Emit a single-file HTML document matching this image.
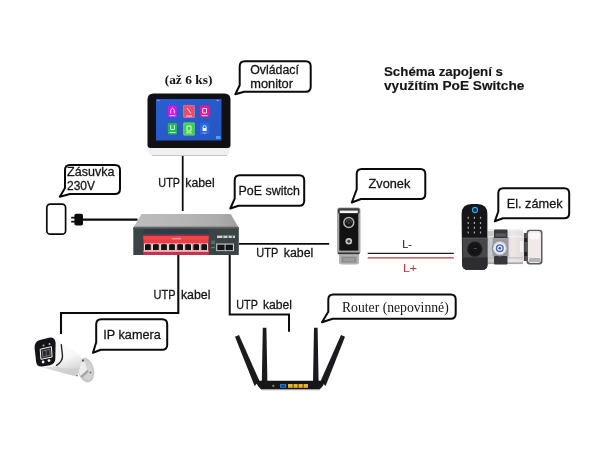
<!DOCTYPE html>
<html lang="cs">
<head>
<meta charset="utf-8">
<title>Schéma zapojení s využitím PoE Switche</title>
<style>
  html, body { margin: 0; padding: 0; background: #ffffff; }
  body { width: 600px; height: 450px; overflow: hidden; font-family: "Liberation Sans", sans-serif; }
  svg { display: block; will-change: transform; }
  .sans { font-family: "Liberation Sans", sans-serif; fill: #151515; stroke: #151515; stroke-width: 0.28; }
  #title .sans { stroke-width: 0.15; }
  .serif { font-family: "Liberation Serif", serif; fill: #151515; }
  .wire { stroke: #0c0c0c; fill: none; stroke-linejoin: miter; }
  .bubble { fill: #fff; stroke: #0a0a0a; stroke-width: 2; stroke-linejoin: round; }
</style>
</head>
<body>
<svg width="600" height="450" viewBox="0 0 600 450">
  <defs>
    <linearGradient id="gScreen" x1="0" y1="0" x2="1" y2="1">
      <stop offset="0" stop-color="#2a5ed0"/>
      <stop offset="1" stop-color="#2656c2"/>
    </linearGradient>
    <linearGradient id="gTop" x1="0" y1="0" x2="1" y2="0">
      <stop offset="0" stop-color="#bdbdbd"/>
      <stop offset="0.45" stop-color="#b6b6b6"/>
      <stop offset="0.8" stop-color="#acacac"/>
      <stop offset="1" stop-color="#a0a0a0"/>
    </linearGradient>
    <linearGradient id="gSilver" x1="0" y1="0" x2="0" y2="1">
      <stop offset="0" stop-color="#c8c8c8"/>
      <stop offset="1" stop-color="#858585"/>
    </linearGradient>
    <linearGradient id="gCam" x1="0" y1="0" x2="0.35" y2="1">
      <stop offset="0" stop-color="#ffffff"/>
      <stop offset="0.65" stop-color="#f7f7f7"/>
      <stop offset="1" stop-color="#d6d6d6"/>
    </linearGradient>
    <linearGradient id="gLock" x1="0" y1="0" x2="1" y2="0">
      <stop offset="0" stop-color="#c4c4c4"/>
      <stop offset="0.45" stop-color="#dad8d8"/>
      <stop offset="0.7" stop-color="#ece6e6"/>
      <stop offset="1" stop-color="#e2dcdc"/>
    </linearGradient>
  </defs>

  <!-- ===== WIRES ===== -->
  <g id="wires">
    <path class="wire" stroke-width="1.8" d="M182.7 156 V211"/>
    <path class="wire" stroke-width="2.3" d="M82 219.600 H137.500"/>
    <path class="wire" stroke-width="2.1" d="M178.300 255 V313 H61 V334"/>
    <path class="wire" stroke-width="2" d="M229.700 255 V314.600 H289 V331.700"/>
    <path class="wire" stroke-width="1.8" d="M239 243.800 H329.200"/>
    <path d="M367.700 253.300 H453.800" stroke="#1c1c1c" stroke-width="1.2" fill="none"/>
    <path d="M367.700 257.900 H453.800" stroke="#b03a3a" stroke-width="1.2" fill="none"/>
  </g>

  <!-- ===== WIRE LABELS ===== -->
  <g id="labels">
    <text class="sans" x="158.3" y="187.4" font-size="12.5" textLength="21.7" lengthAdjust="spacingAndGlyphs">UTP</text>
    <text class="sans" x="185.3" y="187.4" font-size="12.5" textLength="29.4" lengthAdjust="spacingAndGlyphs">kabel</text>
    <text class="sans" x="256.3" y="256.7" font-size="12.5" textLength="22.0" lengthAdjust="spacingAndGlyphs">UTP</text>
    <text class="sans" x="283.7" y="256.7" font-size="12.5" textLength="29.6" lengthAdjust="spacingAndGlyphs">kabel</text>
    <text class="sans" x="153.5" y="298.6" font-size="12.5" textLength="22.0" lengthAdjust="spacingAndGlyphs">UTP</text>
    <text class="sans" x="180.9" y="298.6" font-size="12.5" textLength="29.6" lengthAdjust="spacingAndGlyphs">kabel</text>
    <text class="sans" x="236.3" y="309.4" font-size="12.5" textLength="21.5" lengthAdjust="spacingAndGlyphs">UTP</text>
    <text class="sans" x="263.0" y="309.4" font-size="12.5" textLength="29.0" lengthAdjust="spacingAndGlyphs">kabel</text>
    <text class="sans" x="402.3" y="247.5" font-size="11.5" textLength="9.4" lengthAdjust="spacingAndGlyphs" style="fill:#2a2a2a;stroke-width:0.1">L-</text>
    <text class="sans" x="403.0" y="271.5" font-size="11.5" textLength="14.0" lengthAdjust="spacingAndGlyphs" style="fill:#c03c3c;stroke:#c03c3c;stroke-width:0.1">L+</text>
  </g>

  <!-- ===== TITLE ===== -->
  <g id="title" font-weight="bold">
    <text class="sans" x="384.0" y="76.0" font-size="12.5" textLength="119.0" lengthAdjust="spacingAndGlyphs">Schéma zapojení s</text>
    <text class="sans" x="384.0" y="90.4" font-size="12.5" textLength="140.4" lengthAdjust="spacingAndGlyphs">využítím PoE Switche</text>
  </g>

  <!-- ===== MONITOR ===== -->
  <g id="monitor">
    <text class="serif" x="164.7" y="84.3" font-size="13" textLength="47.7" lengthAdjust="spacingAndGlyphs" font-weight="bold">(až 6 ks)</text>
    <path d="M147.800 146 H230.600 L229.600 152 Q228.800 155.800 225.800 155.800 H152.800 Q149.800 155.800 149 152 Z" fill="#efefef"/>
    <rect x="152" y="155" width="75" height="1" fill="#c8c8c8"/>
    <path d="M153.500 93.500 H224.500 Q230.500 93.500 230.500 99.500 V145 Q230.500 148 227.500 148 H150.500 Q147.500 148 147.500 145 V99.500 Q147.500 93.500 153.500 93.500 Z" fill="#111113"/>
    <rect x="156" y="99" width="65.500" height="41.500" fill="url(#gScreen)"/>
    <!-- icons row 1 -->
    <rect x="167.800" y="105.500" width="8.900" height="11.200" rx="1" fill="#d614e6"/>
    <rect x="183.300" y="104.900" width="11.400" height="12.800" rx="1" fill="#f27c94"/>
    <rect x="184" y="105.600" width="10" height="11.400" rx="0.800" fill="#ee4a6e"/>
    <rect x="200" y="105.500" width="9.500" height="11.200" rx="1" fill="#ee1690"/>
    <!-- icons row 2 -->
    <rect x="167.800" y="123" width="9.200" height="11.500" rx="1" fill="#1fb858"/>
    <rect x="183.300" y="122.600" width="11.400" height="12.800" rx="1" fill="#78dc70"/>
    <rect x="184" y="123.300" width="10" height="11.400" rx="0.800" fill="#40d048"/>
    <rect x="200" y="123" width="9.500" height="11.500" rx="1" fill="#2a68de"/>
    <!-- glyphs -->
    <g fill="none" stroke="#ffffff" stroke-width="0.900" opacity="0.950">
      <path d="M170.700 113.500 V110.500 Q172.500 106 174.300 110.500 V113.500"/>
      <path d="M187 108 L191 113.500"/>
      <path d="M202.700 108.500 H206.500 V113 H202.700 Z"/>
      <path d="M170.700 125 V129.500 H174.300 V125"/>
      <path d="M187 126 H191 V131 H187 Z"/>
      <path d="M203 128 V126.500 Q204.600 124.300 206.200 126.500 V128"/>
    </g>
    <rect x="202.600" y="128" width="4" height="3" fill="#ffffff"/>
    <g fill="#ffffff" opacity="0.850">
      <rect x="169.500" y="115.300" width="6" height="0.900"/>
      <rect x="186" y="115.600" width="6" height="0.900"/>
      <rect x="201.600" y="115.300" width="6" height="0.900"/>
      <rect x="169.500" y="132" width="6" height="0.900"/>
      <rect x="186" y="132.400" width="6" height="0.900"/>
      <rect x="202.600" y="132.600" width="4" height="0.800" opacity="0.700"/>
    </g>
    <rect x="216" y="136" width="4.600" height="3" fill="#3fa4f4"/>
    <rect x="157.500" y="100" width="2" height="1" fill="#9fc0ff" opacity="0.800"/>
    <rect x="216.500" y="100" width="2.500" height="1" fill="#9fc0ff" opacity="0.800"/>
  </g>

  <!-- ===== SOCKET + PLUG ===== -->
  <g id="socket">
    <rect x="46.800" y="204.200" width="18.800" height="30" rx="3.500" fill="#fff" stroke="#0a0a0a" stroke-width="1.700"/>
    <rect x="74.400" y="213.800" width="8.600" height="11.800" rx="1.800" fill="#0c0c0c"/>
    <rect x="71.200" y="216.800" width="4" height="1.700" fill="#0c0c0c"/>
    <rect x="71.200" y="220.800" width="4" height="1.700" fill="#0c0c0c"/>
  </g>

  <!-- ===== POE SWITCH ===== -->
  <g id="switch">
    <path d="M141.500 214 H230.600 L238.800 227.800 H133.300 Z" fill="url(#gTop)"/>
    <path d="M134.300 226 H237.700 L238.800 227.800 H133.300 Z" fill="#6a6a6a" opacity="0.350"/>
    <rect x="133.300" y="227.500" width="105.500" height="27.500" fill="#3a4447"/>
    <rect x="133.300" y="227.500" width="105.500" height="1.600" fill="#505254"/>
    <rect x="143.500" y="229.100" width="65" height="6" fill="#2e3c4c"/>
    <rect x="143.500" y="235" width="65" height="20" fill="#ea3e48"/>
    <rect x="143.500" y="234.300" width="65" height="1.800" fill="#8a3444"/>
    <rect x="143.500" y="236.100" width="65" height="3.400" fill="#f0484c"/>
    <rect x="143.500" y="250.500" width="65" height="1.500" fill="#f2a2aa"/>
    <rect x="143.500" y="252" width="65" height="3" fill="#c43250"/>
    <rect x="172" y="238.400" width="9" height="0.900" fill="#ffd8d0" opacity="0.850"/>
    <rect x="144.1" y="243.400" width="7.600" height="7.400" fill="#f6e4e0"/>
    <rect x="145.0" y="244.300" width="5.800" height="5.800" fill="#101214"/>
    <rect x="146.2" y="243.800" width="3.400" height="1.400" fill="#2a2e30"/>
    <rect x="152.1" y="243.400" width="7.600" height="7.400" fill="#f6e4e0"/>
    <rect x="153.0" y="244.300" width="5.800" height="5.800" fill="#101214"/>
    <rect x="154.2" y="243.800" width="3.400" height="1.400" fill="#2a2e30"/>
    <rect x="160.2" y="243.400" width="7.600" height="7.400" fill="#f6e4e0"/>
    <rect x="161.1" y="244.300" width="5.800" height="5.800" fill="#101214"/>
    <rect x="162.3" y="243.800" width="3.400" height="1.400" fill="#2a2e30"/>
    <rect x="168.2" y="243.400" width="7.600" height="7.400" fill="#f6e4e0"/>
    <rect x="169.1" y="244.300" width="5.800" height="5.800" fill="#101214"/>
    <rect x="170.3" y="243.800" width="3.400" height="1.400" fill="#2a2e30"/>
    <rect x="176.3" y="243.400" width="7.600" height="7.400" fill="#f6e4e0"/>
    <rect x="177.2" y="244.300" width="5.800" height="5.800" fill="#101214"/>
    <rect x="178.4" y="243.800" width="3.400" height="1.400" fill="#2a2e30"/>
    <rect x="184.3" y="243.400" width="7.600" height="7.400" fill="#f6e4e0"/>
    <rect x="185.2" y="244.300" width="5.800" height="5.800" fill="#101214"/>
    <rect x="186.4" y="243.800" width="3.400" height="1.400" fill="#2a2e30"/>
    <rect x="192.4" y="243.400" width="7.600" height="7.400" fill="#f6e4e0"/>
    <rect x="193.3" y="244.300" width="5.800" height="5.800" fill="#101214"/>
    <rect x="194.5" y="243.800" width="3.400" height="1.400" fill="#2a2e30"/>
    <rect x="200.4" y="243.400" width="7.600" height="7.400" fill="#f6e4e0"/>
    <rect x="201.3" y="244.300" width="5.800" height="5.800" fill="#101214"/>
    <rect x="202.5" y="243.800" width="3.400" height="1.400" fill="#2a2e30"/>
    <!-- uplink -->
    <rect x="216.200" y="243.500" width="17.800" height="7.600" fill="#c9cfd2"/>
    <rect x="217.300" y="244.600" width="7.300" height="5.600" fill="#121416"/>
    <rect x="225.600" y="244.600" width="7.300" height="5.600" fill="#121416"/>
    <rect x="217" y="235.600" width="18" height="2.400" fill="#e8e8e8" opacity="0.850"/>
    <rect x="222.500" y="235.600" width="0.900" height="2.400" fill="#3a4447"/>
    <rect x="227.500" y="235.600" width="1.100" height="2.400" fill="#3a4447"/>
    <rect x="231.800" y="235.600" width="0.900" height="2.400" fill="#3a4447"/>
    <rect x="211.600" y="240.600" width="0.900" height="3.400" fill="#9aa" opacity="0.800"/>
    <rect x="213.600" y="240.600" width="0.900" height="3.400" fill="#9aa" opacity="0.800"/>
    <rect x="211.200" y="247.200" width="3.600" height="0.900" fill="#9aa" opacity="0.700"/>
  </g>

  <!-- ===== DOORBELL ===== -->
  <g id="bell">
    <path d="M339 251 H359 V262.200 Q359 264.500 356.700 264.500 H341.300 Q339 264.500 339 262.200 Z" fill="#b2b2b2"/>
    <rect x="341.500" y="256.600" width="15" height="6" fill="#8c8c8c"/>
    <rect x="343.500" y="258" width="11" height="3.200" fill="#9c9c9c"/>
    <rect x="337" y="207.500" width="23.500" height="47" rx="2.400" fill="#a6a6a6"/>
    <rect x="338" y="208.200" width="21.500" height="5.600" rx="1.500" fill="#3c3c3c"/>
    <rect x="339.800" y="210.600" width="18" height="2.500" fill="#f2f2f2"/>
    <rect x="339.300" y="213.400" width="19" height="37.200" fill="#121212"/>
    <rect x="338" y="252.500" width="21.500" height="1.600" fill="#333333"/>
    <circle cx="348.800" cy="222.500" r="5.700" fill="#b4b4b4"/>
    <circle cx="348.800" cy="222.500" r="4.200" fill="#161616"/>
    <path d="M346 222.500 A2.800 2.800 0 0 1 351.600 222.500" fill="none" stroke="#6c6c6c" stroke-width="0.800"/>
    <circle cx="348.800" cy="222.800" r="1.400" fill="#3c3c3c"/>
    <circle cx="348.800" cy="241.300" r="3.300" fill="#c4c4c4"/>
    <circle cx="348.800" cy="241.300" r="1.500" fill="#3a3a3a"/>
  </g>

  <!-- ===== ELECTRIC LOCK ===== -->
  <g id="lock">
    <!-- lock body -->
    <rect x="487.400" y="229.500" width="35.600" height="34.600" rx="1.500" fill="url(#gLock)"/>
    <rect x="487.400" y="229.500" width="35.600" height="1.600" fill="#ededed"/>
    <rect x="487.400" y="236" width="35.600" height="1.400" fill="#ffffff" opacity="0.450"/>
    <rect x="487.400" y="257" width="35.600" height="1.600" fill="#b0b0b0" opacity="0.450"/>
    <rect x="487.400" y="262.400" width="35.600" height="1.700" fill="#a8a8a8"/>
    <rect x="492.600" y="237" width="16" height="19.500" fill="#9c9ca0"/>
    <rect x="494" y="229.500" width="13.500" height="8.500" rx="1" fill="#38383a"/>
    <rect x="495.500" y="233.500" width="10.500" height="3" fill="#5c5c60"/>
    <rect x="494" y="256" width="13.500" height="8.600" rx="1" fill="#38383a"/>
    <circle cx="499.800" cy="248.200" r="8.200" fill="#8e9098"/>
    <circle cx="499.800" cy="248.200" r="6.900" fill="#d6d8de"/>
    <circle cx="499.800" cy="248.200" r="5.400" fill="#f3f4f8"/>
    <circle cx="499.800" cy="248.200" r="4" fill="#4a64b8"/>
    <circle cx="499.800" cy="248.200" r="2.600" fill="#dfe4f4"/>
    <circle cx="499.800" cy="248.200" r="1.200" fill="#3a52a8"/>
    <rect x="520" y="241" width="8" height="11" fill="#f4f0f0"/>
    <!-- strike -->
    <rect x="523.800" y="233" width="5.500" height="28" fill="#4a4c50"/>
    <rect x="526.500" y="229.700" width="16" height="34.700" rx="3" fill="#5a5c60"/>
    <rect x="528" y="231" width="13" height="32" rx="2.400" fill="#efe9e9"/>
    <rect x="529.500" y="232.500" width="10" height="7" rx="1.500" fill="#faf6f6"/>
    <rect x="529" y="258" width="11.500" height="4" rx="1" fill="#b4b4b4"/>
    <rect x="524.200" y="238" width="3" height="4" fill="#222"/>
    <rect x="524.200" y="252" width="3" height="4" fill="#222"/>
    <!-- keypad -->
    <path d="M461.600 214 Q461.600 204 471.600 204 H477.400 Q487.400 204 487.400 214 V264.700 Q487.400 269.700 482.400 269.700 H467.600 Q462.600 269.700 462.100 264.700 Z" fill="#161618"/>
    <path d="M462.400 238 H487.400 V264.700 Q487.400 269.700 482.400 269.700 H467.600 Q462.600 269.700 462.400 264.700 Z" fill="#47474a"/>
    <path d="M462.400 257.500 H487.400 V264.700 Q487.400 269.700 482.400 269.700 H467.600 Q462.600 269.700 462.400 264.700 Z" fill="#2d2d30"/>
    <rect x="462.400" y="237.600" width="25" height="1" fill="#5a5a5e"/>
    <circle cx="474.800" cy="249.200" r="7.600" fill="#1b1b1d"/>
    <circle cx="474.800" cy="249.200" r="5.800" fill="#141416"/>
    <rect x="473.600" y="248" width="3.400" height="0.900" fill="#4e4e52"/>
    <circle cx="475" cy="210" r="3" fill="#16324e"/>
    <circle cx="475" cy="210" r="2.600" fill="none" stroke="#3a9fe4" stroke-width="1.100"/>
    <rect x="467.6" y="216.8" width="1.200" height="2" fill="#a4a4aa"/>
    <rect x="473.8" y="216.8" width="1.200" height="2" fill="#a4a4aa"/>
    <rect x="479.9" y="216.8" width="1.200" height="2" fill="#a4a4aa"/>
    <rect x="467.6" y="222.0" width="1.200" height="2" fill="#a4a4aa"/>
    <rect x="473.8" y="222.0" width="1.200" height="2" fill="#a4a4aa"/>
    <rect x="479.9" y="222.0" width="1.200" height="2" fill="#a4a4aa"/>
    <rect x="467.6" y="226.8" width="1.200" height="2" fill="#a4a4aa"/>
    <rect x="473.8" y="226.8" width="1.200" height="2" fill="#a4a4aa"/>
    <rect x="479.9" y="226.8" width="1.200" height="2" fill="#a4a4aa"/>
    <rect x="467.6" y="231.5" width="1.200" height="2" fill="#a4a4aa"/>
    <rect x="473.8" y="231.5" width="1.200" height="2" fill="#a4a4aa"/>
    <rect x="479.9" y="231.5" width="1.200" height="2" fill="#a4a4aa"/>
  </g>

  <!-- ===== IP CAMERA ===== -->
  <g id="camera">
    <!-- mount -->
    <ellipse cx="86" cy="370.200" rx="8" ry="12.400" transform="rotate(-14 86 370.200)" fill="#c6c6c6"/>
    <ellipse cx="86.600" cy="370" rx="6" ry="10" transform="rotate(-14 86.600 370)" fill="#d2d2d2"/>
    <path d="M76 364 L84.500 361.500 L87.500 369.500 L80.500 376 Z" fill="#ececec"/>
    <path d="M80.500 376 L87.500 369.500 L88.500 372 L82 378 Z" fill="#a8a8a8"/>
    <circle cx="83" cy="360.600" r="1.100" fill="#5a5a5a"/>
    <circle cx="90.500" cy="372.500" r="1" fill="#7a7a7a"/>
    <circle cx="76.800" cy="375.300" r="1.100" fill="#7a7a7a"/>
    <!-- body -->
    <path d="M54 338 L62.500 343.500 L79.500 355 Q82.500 357.500 81.500 361.500 L78.500 372 Q77 376.500 72.500 375.500 L42 367.500 Z" fill="url(#gCam)"/>
    <path d="M44 367.800 L72.500 375.500 Q77 376.500 78.500 372 L79.500 368 Q64 370 54 365 Z" fill="#c8c8c8" opacity="0.450"/>
    <!-- hood -->
    <path d="M33.700 348 Q33.400 340.800 39.800 339.200 L49.500 336.700 Q58 335.600 61.400 343 L62.600 357 Q62.400 363 56 366.200 L43 367.800 Q36 368.200 35.300 362.500 Z" fill="#f6f6f6"/>
    <path d="M61.300 344.600 L62.500 356 Q62.700 361.500 56.500 365.300" stroke="#262626" stroke-width="1.400" fill="none" stroke-linecap="round"/>
    <!-- face -->
    <path d="M34.600 348 Q34.400 341.600 40 340.100 L49 337.700 Q55 336.900 55.600 343 L55.300 359 Q55.100 364 50 365.200 L42.200 366.500 Q36.900 367 36.200 362 Z" fill="#141416"/>
    <!-- inner panel -->
    <path d="M40.200 349.200 L51.400 346.700 L52.100 357 L40.900 359.300 Z" fill="#26262a" stroke="#f0f0f0" stroke-width="1"/>
    <path d="M42.400 351 L49.800 349.400 L50.200 355.400 L42.900 356.900 Z" fill="none" stroke="#8a8a92" stroke-width="0.700"/>
    <path d="M46 350.300 L46.400 356.200" stroke="#8a8a92" stroke-width="0.600"/>
    <circle cx="43.500" cy="345.400" r="1" fill="#b4b4b4"/>
    <circle cx="49.500" cy="344" r="1" fill="#b4b4b4"/>
    <circle cx="43.100" cy="362" r="1.400" fill="#f2f2f2"/>
    <circle cx="49" cy="360.600" r="1.400" fill="#f2f2f2"/>
  </g>

  <!-- ===== ROUTER ===== -->
  <g id="router">
    <path d="M235 336.800 L239 335 L259.500 381 L254.600 386 Z" fill="#1b1b1d"/>
    <path d="M262.800 327.800 H266.400 L267.400 382 H261.800 Z" fill="#1b1b1d"/>
    <path d="M314 327.800 H317.600 L318.600 382 H313 Z" fill="#1b1b1d"/>
    <path d="M341 335 L345 336.800 L325.600 386 L320.600 381 Z" fill="#1b1b1d"/>
    <path d="M256.500 380.700 H324.200 Q324.600 385.500 319.500 389.400 H261.200 Q256.200 385.500 256.500 380.700 Z" fill="#17171a"/>
    <rect x="262" y="389.400" width="57" height="1.600" fill="#d9d9d9" opacity="0.600"/>
    <rect x="280" y="384" width="6.200" height="3.800" fill="#2b72d8"/>
    <rect x="281.200" y="385" width="3.800" height="1.800" fill="#17171a" opacity="0.550"/>
    <rect x="288" y="384" width="20" height="3.800" fill="#e8b424"/>
    <rect x="292.700" y="384" width="0.800" height="3.800" fill="#17171a"/>
    <rect x="297.700" y="384" width="0.800" height="3.800" fill="#17171a"/>
    <rect x="302.700" y="384" width="0.800" height="3.800" fill="#17171a"/>
    <circle cx="273.300" cy="385.800" r="1.100" fill="#8a9a4a"/>
  </g>

  <!-- ===== SPEECH BUBBLES ===== -->
  <g id="bubbles">
    <path class="bubble" d="M244.7 61.2 H305.7 Q310.7 61.2 310.7 66.2 V86.7 Q310.7 91.7 305.7 91.7 H244.2 L235.3 94.3 L239.7 85.2 V66.2 Q239.7 61.2 244.7 61.2 Z"/>
    <text class="sans" x="250.2" y="74.3" font-size="12.5" textLength="48.8" lengthAdjust="spacingAndGlyphs">Ovládací</text>
    <text class="sans" x="250.2" y="87.9" font-size="12.5" textLength="42.8" lengthAdjust="spacingAndGlyphs">monitor</text>
    <path class="bubble" d="M70.0 165.0 H115.0 Q120.0 165.0 120.0 170.0 V189.0 Q120.0 194.0 115.0 194.0 H70.0 L59.8 196.7 L65.0 188.0 V170.0 Q65.0 165.0 70.0 165.0 Z"/>
    <text class="sans" x="67.0" y="176.0" font-size="12.5" textLength="47.4" lengthAdjust="spacingAndGlyphs">Zásuvka</text>
    <text class="sans" x="67.0" y="190.0" font-size="12.5" textLength="28.0" lengthAdjust="spacingAndGlyphs">230V</text>
    <path class="bubble" d="M239.7 175.3 H299.2 Q304.2 175.3 304.2 180.3 V200.7 Q304.2 205.7 299.2 205.7 H238.5 L230.3 208.5 L234.7 198.7 V180.3 Q234.7 175.3 239.7 175.3 Z"/>
    <text class="sans" x="238.5" y="195.3" font-size="12.5" textLength="61.5" lengthAdjust="spacingAndGlyphs">PoE switch</text>
    <path class="bubble" d="M361.7 169.0 H420.3 Q425.3 169.0 425.3 174.0 V194.0 Q425.3 199.0 420.3 199.0 H361.0 L351.8 202.5 L356.7 189.3 V174.0 Q356.7 169.0 361.7 169.0 Z"/>
    <text class="sans" x="368.5" y="188.0" font-size="12.5" textLength="41.8" lengthAdjust="spacingAndGlyphs">Zvonek</text>
    <path class="bubble" d="M503.3 188.2 H564.2 Q569.2 188.2 569.2 193.2 V213.3 Q569.2 218.3 564.2 218.3 H503.0 L494.8 221.3 L498.3 211.5 V193.2 Q498.3 188.2 503.3 188.2 Z"/>
    <text class="sans" x="506.7" y="208.2" font-size="12.5" textLength="56.0" lengthAdjust="spacingAndGlyphs">El. zámek</text>
    <path class="bubble" d="M101.2 319.3 H162.2 Q167.2 319.3 167.2 324.3 V344.8 Q167.2 349.8 162.2 349.8 H100.8 L93.0 352.8 L96.2 342.3 V324.3 Q96.2 319.3 101.2 319.3 Z"/>
    <text class="sans" x="103.3" y="338.5" font-size="12.5" textLength="57.4" lengthAdjust="spacingAndGlyphs">IP kamera</text>
    <path class="bubble" d="M333.3 294.5 H450.7 Q455.7 294.5 455.7 299.5 V313.7 Q455.7 318.7 450.7 318.7 H332.7 L322.0 322.2 L328.3 311.7 V299.5 Q328.3 294.5 333.3 294.5 Z"/>
    <text class="serif" x="342.0" y="312.2" font-size="14" textLength="106.7" lengthAdjust="spacingAndGlyphs">Router (nepovinné)</text>
  </g>
</svg>
</body>
</html>
